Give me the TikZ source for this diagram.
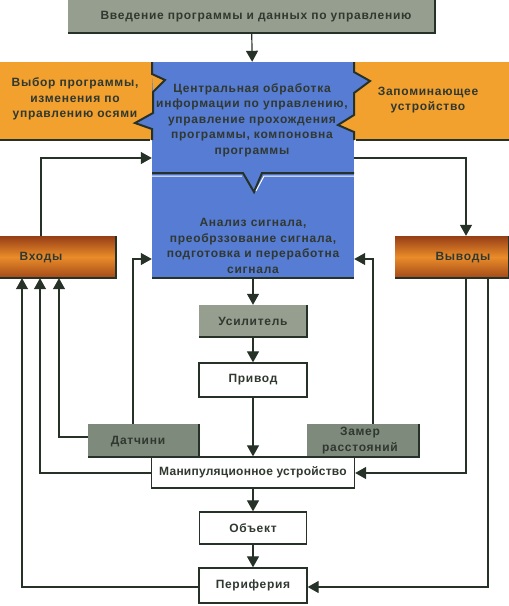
\documentclass[tikz,border=0pt]{standalone}
\usepackage{fontspec}
\setmainfont[LetterSpace=6]{Liberation Sans}
\usetikzlibrary{arrows.meta}
\definecolor{ink}{RGB}{48,56,48}
\definecolor{wire}{RGB}{38,50,40}
\definecolor{stone}{RGB}{150,158,143}
\definecolor{stonedark}{RGB}{126,138,123}
\definecolor{amber}{RGB}{242,160,46}
\definecolor{steel}{RGB}{86,124,212}
\definecolor{rust}{RGB}{150,62,22}
\definecolor{rustmid}{RGB}{234,140,42}
\tikzset{
  every node/.style={inner sep=0pt, text=ink, align=center, font=\bfseries\fontsize{12}{15.5}\selectfont},
  link/.style={draw=wire, line width=1.2pt, -{Triangle[length=11pt,width=12pt]}},
  rim/.style={draw=wire, line width=2pt},
  stonebox/.style={fill=stone},
  plainbox/.style={draw=wire, line width=1.3pt, fill=white},
  portbox/.style={top color=rust, bottom color=rust!85!rustmid, middle color=rustmid}
}

\begin{document}
\begin{tikzpicture}[x=1pt,y=-1pt]
   \useasboundingbox (0,0) rectangle (509,606);
   \node[stonebox, minimum width=367, minimum height=33] (intro) at (251.5,16.5) {};
   \node (introtext) at (256,17) {Введение программы и данных по управлению};
   \node[fill=amber, minimum width=152, minimum height=78] (choice) at (76,101) {};
   \node[fill=amber, minimum width=155, minimum height=78] (memory) at (431.5,101) {};
   \node[fill=steel, minimum width=202, minimum height=111] (cpu) at (253,117.5) {};
   \node[fill=steel, minimum width=202, minimum height=105] (dsp) at (253,225.5) {};
   \fill[amber] (152,74) -- (165,80) -- (153,92) -- cycle;
   \fill[steel] (152,113) -- (135,123) -- (152,129) -- cycle;
   \fill[steel] (354,72) -- (370,81) -- (354,93) -- cycle;
   \fill[amber] (354,115) -- (338,125) -- (354,132) -- cycle;
   \draw[rim] (152,62) -- (152,74) -- (165,80) -- (153,92) -- (153,113) -- (135,123) -- (152,129) -- (152,140);
   \draw[rim] (354,62) -- (354,72) -- (370,81) -- (354,93) -- (354,115) -- (338,125) -- (354,132) -- (354,140);
   \draw[rim] (0,140) -- (150,140) (356,140) -- (509,140);
   \draw[rim] (152,173) -- (243,173) -- (254,192) -- (262,173) -- (354,173);
   \draw[white, line width=1pt] (152,176) -- (242,176) (256,191) -- (264,176) -- (354,176);
   \draw[rim] (152,278) -- (354,278);
   \node (choicetext) at (75,99) {Выбор программы,\\изменения по\\управлению осями};
   \node (memorytext) at (428,100) {Запоминающее\\устройство};
   \node (cputext) at (252,120) {Центральная обработка\\информации по управлению,\\управление прохождения\\программы, компоновна\\программы};
   \node (dsptext) at (253,246) {Анализ сигнала,\\преобрззование сигнала,\\подготовка и переработна\\сигнала};
   \node[portbox, minimum width=116, minimum height=42] (inputs) at (58,257) {};
   \node (inputstext) at (41,258) {Входы};
   \node[portbox, minimum width=114, minimum height=42] (outputs) at (452,257) {};
   \node (outputstext) at (463,258) {Выводы};
   \node[stonebox, minimum width=108, minimum height=32] (amp) at (253,321) {Усилитель};
   \node[plainbox, minimum width=108, minimum height=34] (drive) at (253,380) {Привод};
   \node[stonebox, fill=stonedark, minimum width=111, minimum height=33] (sensor) at (143.5,440.5) {};
   \node (sensortext) at (138,441.5) {Датчини};
   \node[stonebox, fill=stonedark, minimum width=112, minimum height=33] (range) at (363,440.5) {};
   \node (rangetext) at (360,440.5) {Замер\\расстояний};
   \node[plainbox, minimum width=203, minimum height=31] (manip) at (253,472.5) {\addfontfeatures{LetterSpace=2}Манипуляционное устройство};
   \node[plainbox, minimum width=107, minimum height=32] (object) at (253,528) {Объект};
   \node[plainbox, minimum width=108, minimum height=35] (periph) at (253,585.5) {Периферия};
   \foreach \n in {intro,inputs,outputs,amp,sensor,range}
     \draw[rim] (\n.south west) -- (\n.south east) -- (\n.north east);
   \draw[link] (intro) -- (cpu);
   \draw[link] (41,0 |- inputs.north) |- (cpu.west |- 0,158);
   \draw[link] (cpu.east |- 0,158) -| (466,0 |- outputs.north);
   \draw[link] (dsp) -- (amp);
   \draw[link] (amp) -- (drive);
   \draw[link] (drive) -- (manip);
   \draw[link] (133,0 |- sensor.north) |- (dsp.west |- 0,259);
   \draw[link] (373,0 |- range.north) |- (dsp.east |- 0,259);
   \draw[link] (sensor.west |- 0,437) -| (59,0 |- inputs.south);
   \draw[link] (manip.west |- 0,473) -| (40,0 |- inputs.south);
   \draw[link] (periph.west |- 0,587) -| (22,0 |- inputs.south);
   \draw[link] (466,0 |- outputs.south) |- (manip.east |- 0,473);
   \draw[link] (488,0 |- outputs.south) |- (periph.east |- 0,587);
   \draw[link] (manip) -- (object);
   \draw[link] (object) -- (periph);
\end{tikzpicture}
\end{document}
